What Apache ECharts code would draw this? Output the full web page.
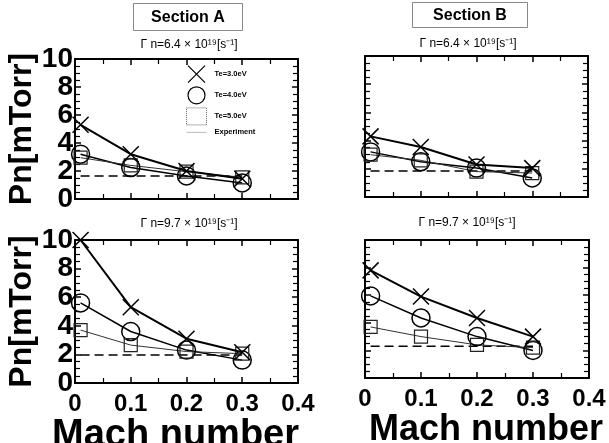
<!DOCTYPE html>
<html>
<head>
<meta charset="utf-8">
<script src="https://cdn.jsdelivr.net/npm/echarts@6/dist/echarts.min.js"></script>
<style>
html,body{margin:0;padding:0;background:#fff;}
#chart{width:609px;height:443px;}
</style>
</head>
<body>
<div id="chart"></div>
<script>
// mach numbers of the runs (first point sits just off 0)
const machNumbers = [0.01, 0.1, 0.2, 0.3];

// Section A, Γn = 6.4e19
const secA64_te3 = [5.3, 3.2, 2.0, 1.45];
const secA64_te4 = [3.2, 2.25, 1.65, 1.15];
const secA64_te5 = [2.95, 2.4, 1.95, 1.55];
const secA64_exp = [1.65, 1.65, 1.65, 1.65];

// Section B, Γn = 6.4e19
const secB64_te3 = [4.3, 3.55, 2.3, 2.05];
const secB64_te4 = [3.2, 2.5, 2.05, 1.35];
const secB64_te5 = [3.0, 2.6, 1.8, 1.7];
const secB64_exp = [1.85, 1.85, 1.85, 1.85];

// Section A, Γn = 9.7e19
const secA97_te3 = [10.0, 5.3, 3.1, 2.15];
const secA97_te4 = [5.6, 3.6, 2.3, 1.6];
const secA97_te5 = [3.7, 2.65, 2.2, 2.05];
const secA97_exp = [1.95, 1.95, 1.95, 1.95];

// Section B, Γn = 9.7e19
const secB97_te3 = [7.8, 5.9, 4.35, 3.0];
const secB97_te4 = [5.95, 4.35, 3.0, 2.0];
const secB97_te5 = [3.7, 3.0, 2.4, 2.2];
const secB97_exp = [2.3, 2.3, 2.3, 2.3];

const xTicks = [0, 0.1, 0.2, 0.3, 0.4];
const yTicks = [0, 2, 4, 6, 8, 10];
const seriesNames = ['Te=3.0eV', 'Te=4.0eV', 'Te=5.0eV', 'Experiment'];

const FONT = '"Liberation Sans", Arial, sans-serif';
const crossPath = 'path://M0,0L10,10M10,0L0,10';

// fixed boxes, no automatic shrinking to fit labels
const fixedGrid = {outerBoundsMode: 'none', containLabel: false};

const panels = [
  {grid: {left: 75, top: 59, width: 223, height: 140}, data: [secA64_te3, secA64_te4, secA64_te5, secA64_exp], yLab: true, xLab: false},
  {grid: {left: 365, top: 56, width: 223, height: 141}, data: [secB64_te3, secB64_te4, secB64_te5, secB64_exp], yLab: false, xLab: false},
  {grid: {left: 75, top: 240, width: 223, height: 143}, data: [secA97_te3, secA97_te4, secA97_te5, secA97_exp], yLab: true, xLab: true,
    nameSize: 38, nameGap: 31, namePad: [0, 22, 0, 0]},
  {grid: {left: 365, top: 240, width: 224, height: 138}, data: [secB97_te3, secB97_te4, secB97_te5, secB97_exp], yLab: false, xLab: true,
    nameSize: 36, nameGap: 34, namePad: [0, 0, 0, 18]}
];

const axisLine = {show: true, onZero: false, lineStyle: {color: '#000', width: 2}};
const tick = {show: true, inside: true, length: 6, lineStyle: {color: '#000', width: 1.5}};
const yLabelStyle = {show: true, showMinLabel: true, showMaxLabel: true, color: '#000', fontFamily: FONT, fontWeight: 'bold',
  fontSize: 28, lineHeight: 20, margin: 2};

let grids = [], xAxes = [], yAxes = [], series = [];
panels.forEach((p, i) => {
  grids.push(Object.assign({}, fixedGrid, p.grid));
  ['bottom', 'top'].forEach(pos => {
    const main = pos === 'bottom' && p.xLab;
    xAxes.push({
      gridIndex: i, type: 'value', position: pos,
      min: xTicks[0], max: xTicks[xTicks.length - 1], interval: 0.1,
      axisLine: axisLine, axisTick: tick,
      minorTick: {show: true, splitNumber: 2, length: 5, lineStyle: {color: '#000', width: 1.2}},
      splitLine: {show: false},
      axisLabel: {show: main, showMinLabel: true, showMaxLabel: true, color: '#000', fontFamily: FONT, fontWeight: 'bold', fontSize: 24, margin: 9,
        formatter: v => v === 0 ? '0' : v.toFixed(1)},
      name: main ? 'Mach number' : '',
      nameLocation: 'middle', nameGap: p.nameGap || 30,
      nameTextStyle: {color: '#000', fontFamily: FONT, fontWeight: 'bold', fontSize: p.nameSize || 36, padding: p.namePad || 0}
    });
  });
  ['left', 'right'].forEach(pos => {
    const main = pos === 'left' && p.yLab;
    // tick labels of a panel that also has x labels go on their own overlay axis below
    const ownLabels = main && !p.xLab;
    yAxes.push({
      gridIndex: i, type: 'value', position: pos,
      min: yTicks[0], max: yTicks[yTicks.length - 1], interval: 2,
      axisLine: axisLine, axisTick: tick,
      minorTick: {show: true, splitNumber: 4, length: 5, lineStyle: {color: '#000', width: 1.2}},
      splitLine: {show: false},
      axisLabel: ownLabels ? yLabelStyle : {show: false},
      name: main ? 'Pn[mTorr]' : '',
      nameLocation: 'middle', nameGap: 37,
      nameTextStyle: {color: '#000', fontFamily: FONT, fontWeight: 'bold', fontSize: 32}
    });
  });
  const pts = arr => arr.map((v, k) => [machNumbers[k], v]);
  series.push(
    {name: seriesNames[0], type: 'line', xAxisIndex: 2 * i, yAxisIndex: 2 * i, data: pts(p.data[0]),
      symbol: crossPath, symbolSize: 16,
      itemStyle: {color: 'transparent', borderColor: '#000', borderWidth: 1.5},
      lineStyle: {color: '#000', width: 2}, z: 4},
    {name: seriesNames[1], type: 'line', xAxisIndex: 2 * i, yAxisIndex: 2 * i, data: pts(p.data[1]),
      symbol: 'circle', symbolSize: 18,
      itemStyle: {color: 'transparent', borderColor: '#000', borderWidth: 1.5},
      lineStyle: {color: '#000', width: 1.5}, z: 3},
    {name: seriesNames[2], type: 'line', xAxisIndex: 2 * i, yAxisIndex: 2 * i, data: pts(p.data[2]),
      symbol: 'rect', symbolSize: 13,
      itemStyle: {color: 'transparent', borderColor: '#222', borderWidth: 1.2},
      lineStyle: {color: '#333', width: 1}, z: 3},
    {name: seriesNames[3], type: 'line', xAxisIndex: 2 * i, yAxisIndex: 2 * i, data: pts(p.data[3]),
      symbol: 'none',
      lineStyle: {color: '#000', width: 1.5, type: [9, 5]}, z: 2}
  );
});

// overlay grid on the lower-left panel, carrying only its y tick labels
grids.push(Object.assign({}, fixedGrid, panels[2].grid));
xAxes.push({gridIndex: 4, type: 'value', show: false, min: xTicks[0], max: xTicks[xTicks.length - 1]});
yAxes.push({gridIndex: 4, type: 'value', position: 'left',
  min: yTicks[0], max: yTicks[yTicks.length - 1], interval: 2,
  axisLine: {show: false}, axisTick: {show: false}, splitLine: {show: false},
  axisLabel: yLabelStyle});

const chart = echarts.init(document.getElementById('chart'), null, {renderer: 'canvas'});
chart.setOption({
  animation: false,
  backgroundColor: '#fff',
  grid: grids, xAxis: xAxes, yAxis: yAxes, series: series,
  legend: {
    left: 181, top: 60, orient: 'vertical', itemWidth: 20, itemHeight: 17, itemGap: 3,
    selectedMode: false,
    textStyle: {color: '#000', fontFamily: FONT, fontWeight: 'bold', fontSize: 7.5, padding: [0, 0, 0, 3]},
    data: [
      {name: seriesNames[0], icon: crossPath, itemStyle: {color: 'transparent', borderColor: '#000', borderWidth: 1.2}},
      {name: seriesNames[1], icon: 'circle', itemStyle: {color: 'transparent', borderColor: '#000', borderWidth: 1.2}},
      {name: seriesNames[2], icon: 'rect', itemStyle: {color: 'transparent', borderColor: '#666', borderWidth: 1, borderType: 'dotted'}},
      {name: seriesNames[3], icon: 'path://M0,0L20,0L20,1L0,1Z', itemStyle: {color: '#bbb', borderWidth: 0}}
    ]
  },
  graphic: [
    {type: 'group', left: 133, top: 3, children: [
      {type: 'rect', shape: {x: 0, y: 0, width: 109, height: 27}, style: {fill: '#fff', stroke: '#888', lineWidth: 1}},
      {type: 'text', x: 54.5, y: 14, style: {text: 'Section A', fill: '#000', font: 'bold 16px ' + FONT, textAlign: 'center', textVerticalAlign: 'middle'}}
    ]},
    {type: 'group', left: 412, top: 2, children: [
      {type: 'rect', shape: {x: 0, y: 0, width: 115, height: 25}, style: {fill: '#fff', stroke: '#888', lineWidth: 1}},
      {type: 'text', x: 57.5, y: 13, style: {text: 'Section B', fill: '#000', font: 'bold 16px ' + FONT, textAlign: 'center', textVerticalAlign: 'middle'}}
    ]},
    {type: 'text', x: 189, y: 45, style: {text: 'Γ n=6.4 × 10¹⁹[s⁻¹]', fill: '#000', font: '12px ' + FONT, textAlign: 'center', textVerticalAlign: 'middle'}},
    {type: 'text', x: 468, y: 44, style: {text: 'Γ n=6.4 × 10¹⁹[s⁻¹]', fill: '#000', font: '12px ' + FONT, textAlign: 'center', textVerticalAlign: 'middle'}},
    {type: 'text', x: 189, y: 224, style: {text: 'Γ n=9.7 × 10¹⁹[s⁻¹]', fill: '#000', font: '12px ' + FONT, textAlign: 'center', textVerticalAlign: 'middle'}},
    {type: 'text', x: 467, y: 223, style: {text: 'Γ n=9.7 × 10¹⁹[s⁻¹]', fill: '#000', font: '12px ' + FONT, textAlign: 'center', textVerticalAlign: 'middle'}}
  ]
});
</script>
</body>
</html>
